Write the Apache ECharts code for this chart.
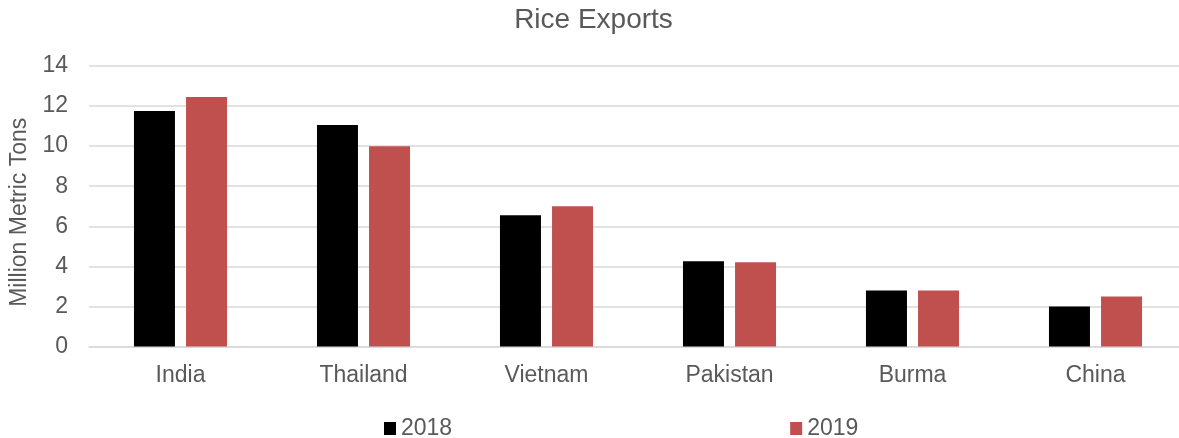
<!DOCTYPE html>
<html>
<head>
<meta charset="utf-8">
<script src="https://cdn.jsdelivr.net/npm/echarts@6/dist/echarts.min.js"></script>
<style>
html,body{margin:0;padding:0;background:#fff;overflow:hidden;width:1179px;height:438px;}
#chart{width:1187px;height:438px;}
</style>
</head>
<body>
<div id="chart"></div>
<script>
const categories = ['India', 'Thailand', 'Vietnam', 'Pakistan', 'Burma', 'China'];
const seriesNames = ['2018', '2019'];
const values2018 = [11.75, 11.05, 6.55, 4.25, 2.8, 2.0];
const values2019 = [12.45, 10.0, 7.0, 4.2, 2.8, 2.5];
const yTicks = { min: 0, max: 14, interval: 2 };

const font = 'Liberation Sans, Arial, sans-serif';
const textColor = '#595959';
const chart = echarts.init(document.getElementById('chart'), null, { renderer: 'canvas' });
chart.setOption({
  animation: false,
  backgroundColor: '#fff',
  title: {
    text: 'Rice Exports', left: 'center', top: 1,
    textStyle: { fontFamily: font, fontSize: 28, fontWeight: 'normal', color: textColor }
  },
  legend: {
    top: 412, left: 379, itemGap: 338, itemWidth: 12, itemHeight: 13, icon: 'rect',
    textStyle: { fontFamily: font, fontSize: 23, color: textColor },
    data: seriesNames
  },
  grid: { left: 89, top: 66, right: 0, height: 280.5 },
  xAxis: {
    type: 'category', data: categories,
    axisLine: { show: true, lineStyle: { color: '#d9d9d9', width: 1.5 } },
    axisTick: { show: false },
    axisLabel: { fontFamily: font, fontSize: 23, color: textColor, margin: 18 }
  },
  yAxis: {
    type: 'value', min: yTicks.min, max: yTicks.max, interval: yTicks.interval,
    name: 'Million Metric Tons', nameLocation: 'middle', nameGap: 55, nameRotate: 90,
    nameTextStyle: { fontFamily: font, fontSize: 23, color: textColor, padding: [0, 12, 0, 0] },
    axisLine: { show: false }, axisTick: { show: false },
    axisLabel: { fontFamily: font, fontSize: 23, color: textColor, margin: 21 },
    splitLine: { lineStyle: { color: '#d9d9d9', width: 1.5 } }
  },
  series: [
    { name: seriesNames[0], type: 'bar', data: values2018, barWidth: 41, barGap: '27%', itemStyle: { color: '#000000' } },
    { name: seriesNames[1], type: 'bar', data: values2019, barWidth: 41, barGap: '27%', itemStyle: { color: '#c0504d' } }
  ]
});
</script>
</body>
</html>
